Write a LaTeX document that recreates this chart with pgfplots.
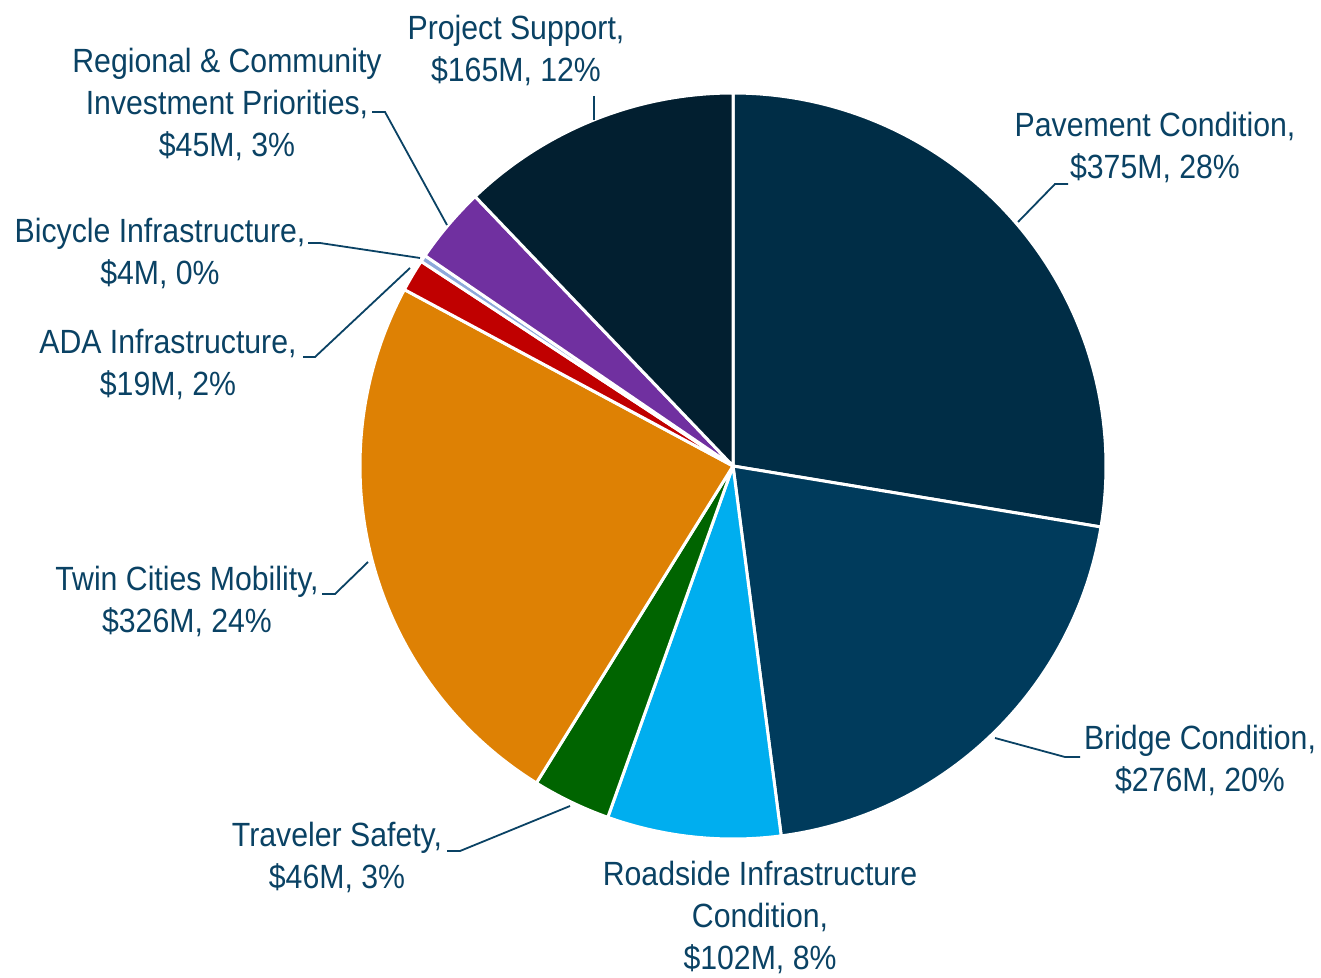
\documentclass[border=0pt]{standalone}
\usepackage{pgfplots}
\usepackage{pgfplotstable}
\pgfplotsset{compat=1.18}
\usepackage{fontspec}
\setmainfont{Liberation Sans}[FakeStretch=0.9]
\definecolor{cPave}{RGB}{0,45,70}
\definecolor{cBridge}{RGB}{0,59,92}
\definecolor{cRoad}{RGB}{0,174,239}
\definecolor{cSafe}{RGB}{0,100,0}
\definecolor{cTwin}{RGB}{222,129,4}
\definecolor{cADA}{RGB}{192,0,0}
\definecolor{cBike}{RGB}{142,169,219}
\definecolor{cReg}{RGB}{112,48,160}
\definecolor{cProj}{RGB}{2,31,48}
\definecolor{tc}{RGB}{10,66,100}
\tikzset{lbl/.style={font=\fontsize{16.8}{21}\selectfont, text=tc, align=center, inner sep=0pt}}
\pgfplotstableread{
name value col
Pavement 375 cPave
Bridge 276 cBridge
Roadside 102 cRoad
Safety 46 cSafe
Twin 326 cTwin
ADA 19 cADA
Bicycle 4 cBike
Regional 45 cReg
Project 165 cProj
}\piedata
\begin{document}
\begin{tikzpicture}
\begin{axis}[
  width=660.5pt, height=489pt, scale only axis,
  xmin=0, xmax=1321, ymin=0, ymax=978, y dir=reverse,
  hide axis, clip=false,
]
\addplot[draw=none, forget plot] coordinates {(0,0) (1321,978)};
\path (axis cs:0,0) rectangle (axis cs:1321,978);
\def\total{1358}
\def\cum{0}
\pgfplotsforeachungrouped \i in {0,...,8}{%
  \pgfplotstablegetelem{\i}{value}\of\piedata \let\v=\pgfplotsretval
  \pgfplotstablegetelem{\i}{col}\of\piedata \let\c=\pgfplotsretval
  \pgfmathsetmacro{\a}{90-360*(\cum/\total)}%
  \pgfmathsetmacro{\cum}{\cum+\v}%
  \pgfmathsetmacro{\b}{90-360*(\cum/\total)}%
  \edef\temp{\noexpand\addplot[fill=\c, draw=white, line width=1.5pt, line join=round, domain=\b:\a, samples=120, variable=\noexpand\t]
    ({733+373*cos(\noexpand\t)},{466-373*sin(\noexpand\t)}) -- (axis cs:733,466) -- cycle;}%
  \temp
}
% leader lines
\addplot[tc, line width=0.9pt] coordinates {(594,96) (594,120)};
\addplot[tc, line width=0.9pt] coordinates {(372,112) (385,112) (447,225)};
\addplot[tc, line width=0.9pt] coordinates {(308,243) (320,243) (420,258)};
\addplot[tc, line width=0.9pt] coordinates {(303,357) (315,357) (410,268)};
\addplot[tc, line width=0.9pt] coordinates {(322,594) (335,594) (368,562)};
\addplot[tc, line width=0.9pt] coordinates {(447,851) (460,851) (570,806)};
\addplot[tc, line width=0.9pt] coordinates {(1080,757) (1065,757) (995,738)};
\addplot[tc, line width=0.9pt] coordinates {(1068,184) (1055,184) (1018,222)};
% labels
\node[lbl] at (axis cs:516,50) {Project Support,\\\$165M, 12\%};
\node[lbl] at (axis cs:227,104) {Regional \& Community\\Investment Priorities,\\\$45M, 3\%};
\node[lbl] at (axis cs:160,253) {Bicycle Infrastructure,\\\$4M, 0\%};
\node[lbl] at (axis cs:168,364) {ADA Infrastructure,\\\$19M, 2\%};
\node[lbl] at (axis cs:187,601) {Twin Cities Mobility,\\\$326M, 24\%};
\node[lbl] at (axis cs:337,857) {Traveler Safety,\\\$46M, 3\%};
\node[lbl] at (axis cs:760,917) {Roadside Infrastructure\\Condition,\\\$102M, 8\%};
\node[lbl] at (axis cs:1200,760) {Bridge Condition,\\\$276M, 20\%};
\node[lbl] at (axis cs:1155,147) {Pavement Condition,\\\$375M, 28\%};
\end{axis}
\end{tikzpicture}
\end{document}
